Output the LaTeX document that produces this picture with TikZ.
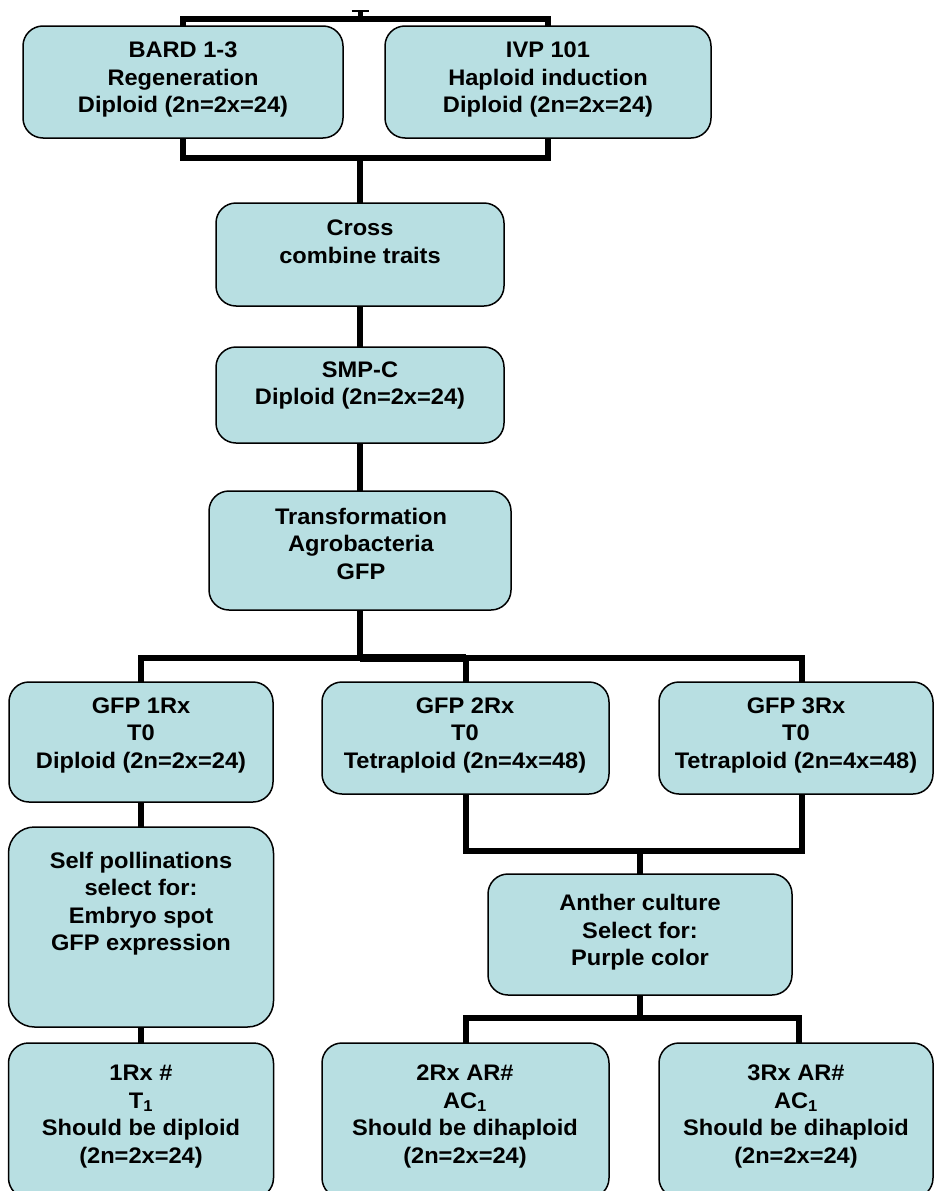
\documentclass[tikz,border=0pt]{standalone}
\usepackage{fontspec}
\setmainfont{Liberation Sans}[FakeStretch=1.05]
\usetikzlibrary{calc,backgrounds}
\definecolor{boxfill}{RGB}{184,223,226}
\begin{document}
\begin{tikzpicture}[x=1pt,y=-1pt,
  box/.style={draw=black, line width=1.5pt, fill=boxfill, rounded corners=20pt, inner sep=0pt, outer sep=0pt},
  txt/.style={align=center, font=\fontsize{22.5}{27.5}\selectfont\bfseries, inner sep=0pt},
  conn/.style={line width=6pt, line cap=butt, line join=miter}]
\useasboundingbox (0,0) rectangle (935,1191);
\clip (0,0) rectangle (935,1191);

% boxes
\node[box, minimum width=320, minimum height=112] (bard) at (183,82) {};
\node[box, minimum width=326, minimum height=112] (ivp) at (548,82) {};
\node[box, minimum width=288, minimum height=103] (cross) at (360,254.5) {};
\node[box, minimum width=288, minimum height=96] (smp) at (360,395) {};
\node[box, minimum width=302, minimum height=119] (trans) at (360,550.5) {};
\node[box, minimum width=264, minimum height=120] (gfp1) at (141,742) {};
\node[box, minimum width=287, minimum height=112] (gfp2) at (465.5,738) {};
\node[box, minimum width=274, minimum height=112] (gfp3) at (796,738) {};
\node[box, minimum width=265, minimum height=200, rounded corners=26pt] (self) at (141,927) {};
\node[box, minimum width=304, minimum height=121] (anther) at (640,934.5) {};
\node[box, minimum width=265, minimum height=155] (r1) at (141,1120.5) {};
\node[box, minimum width=287, minimum height=155] (r2) at (465.5,1120.5) {};
\node[box, minimum width=274, minimum height=155] (r3) at (796,1120.5) {};

% texts
\node[txt] (bardt) at (183,79.5) {BARD 1-3\\Regeneration\\Diploid (2n=2x=24)};
\node[txt] (ivpt) at (548,79.5) {IVP 101\\Haploid induction\\Diploid (2n=2x=24)};
\node[txt] (crosst) at (360,242) {Cross\\combine traits};
\node[txt] (smpt) at (360,385.5) {SMP-C\\Diploid (2n=2x=24)};
\node[txt] (transt) at (361,543.5) {Transformation\\Agrobacteria\\GFP};
\node[txt] (gfp1t) at (141,735) {GFP 1Rx\\T0\\Diploid (2n=2x=24)};
\node[txt] (gfp2t) at (465,735) {GFP 2Rx\\T0\\Tetraploid (2n=4x=48)};
\node[txt] (gfp3t) at (796,735) {GFP 3Rx\\T0\\Tetraploid (2n=4x=48)};
\node[txt] (selft) at (141,903.5) {Self pollinations\\select for:\\Embryo spot\\GFP expression};
\node[txt] (anthert) at (640,932.5) {Anther culture\\Select for:\\Purple color};
\node[txt] (r1t) at (141,1116.5) {1Rx \#\\T\textsubscript{1}\\Should be diploid\\(2n=2x=24)};
\node[txt] (r2t) at (465,1116.5) {2Rx AR\#\\AC\textsubscript{1}\\Should be dihaploid\\(2n=2x=24)};
\node[txt] (r3t) at (796,1116.5) {3Rx AR\#\\AC\textsubscript{1}\\Should be dihaploid\\(2n=2x=24)};

% connectors
\begin{scope}[on background layer]
\coordinate (tb) at (360,19);
\coordinate (tstub) at (360,11);
\coordinate (bb) at (360,158);
\coordinate (b1) at (360,658);
\coordinate (b2) at (640,851);
\coordinate (b3) at (640,1018);

\draw[conn] (bard.north) |- (tb) -| (ivp.north);
\draw[line width=5pt] (tb) -- (tstub);
\draw[line width=2.5pt] ($(tstub)+(-8.5,0)$) -- ($(tstub)+(8.5,0)$);

\draw[conn] (bard.south) |- (bb) -| (ivp.south);
\draw[conn] (bb) -- (cross.north);
\draw[conn] (cross.south) -- (smp.north);
\draw[conn] (smp.south) -- (trans.north);

\draw[conn] (trans.south) -- (b1);
\draw[conn] (gfp1.north) |- (b1) -| ($(gfp3.north)+(6,0)$);
\draw[line width=7.5pt] (b1) -- (gfp2.north |- b1);
\draw[conn] (gfp2.north) -- (gfp2.north |- b1);

\draw[conn] (gfp1.south) -- (self.north);
\draw[conn] (self.south) -- (r1.north);

\draw[conn] (gfp2.south) |- (b2) -| ($(gfp3.south)+(6,0)$);
\draw[conn] (b2) -- (anther.north);

\draw[conn] (anther.south) -- (b3);
\draw[conn] (r2.north) |- (b3) -| ($(r3.north)+(3,0)$);
\end{scope}
\end{tikzpicture}
\end{document}
